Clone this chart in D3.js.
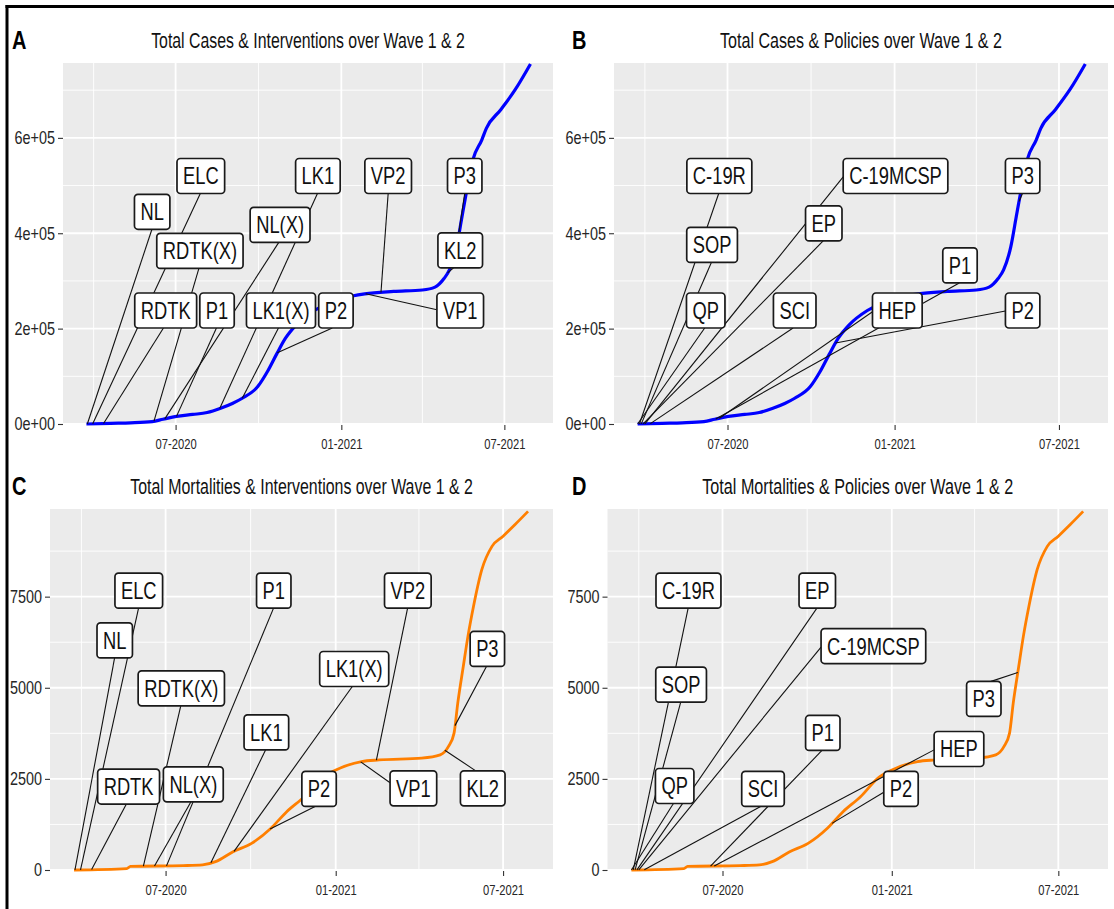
<!DOCTYPE html>
<html>
<head>
<meta charset="utf-8">
<script src="https://cdn.jsdelivr.net/npm/d3@7"></script>
<style>
  body { margin: 0; background: #fff; }
  text { font-family: "Liberation Sans", Arial, sans-serif; }
</style>
</head>
<body>
<script>
// Cumulative totals
var caseDates = ["2020-03-24", "2020-04-20", "2020-05-12", "2020-06-05", "2020-06-17", "2020-07-02",
    "2020-07-20", "2020-08-05", "2020-08-20", "2020-09-02", "2020-09-13", "2020-09-30",
    "2020-10-11", "2020-10-21", "2020-10-31", "2020-11-12", "2020-12-02", "2020-12-20",
    "2021-01-03", "2021-01-27", "2021-02-28", "2021-04-01", "2021-04-15", "2021-04-25",
    "2021-05-01", "2021-05-09", "2021-05-15", "2021-05-19", "2021-05-27", "2021-06-06",
    "2021-06-11", "2021-06-27", "2021-07-13", "2021-07-30"];
var caseTotals = [0, 1500, 2500, 5000, 10000, 16000,
    20000, 24000, 33000, 43000, 54000, 78000,
    110000, 146000, 180000, 208000, 238000, 255000,
    264000, 273000, 278000, 281000, 287000, 305000,
    323000, 372000, 435000, 477000, 554000, 596000,
    620000, 659000, 701000, 755000];

var deathDates = ["2020-03-24", "2020-05-20", "2020-05-24", "2020-07-20", "2020-08-10", "2020-08-24",
    "2020-09-12", "2020-10-02", "2020-10-23", "2020-11-09", "2020-11-28", "2020-12-17",
    "2020-12-31", "2021-01-29", "2021-02-17", "2021-04-04", "2021-04-24", "2021-05-03",
    "2021-05-09", "2021-05-13", "2021-05-19", "2021-05-24", "2021-05-30", "2021-06-08",
    "2021-06-19", "2021-07-01", "2021-07-14", "2021-07-28"];
var deathTotals = [0, 40, 100, 120, 140, 230,
    500, 730, 1145, 1600, 2010, 2520,
    2730, 2975, 3020, 3070, 3160, 3390,
    3755, 4580, 5590, 6410, 7230, 8240,
    8880, 9160, 9480, 9840];

// Events
var interventionNames = ["NL", "ELC", "RDTK", "RDTK(X)", "NL(X)", "P1", "LK1", "LK1(X)", "P2", "VP1", "VP2", "KL2", "P3"];
var interventionDates = ["2020-03-25", "2020-03-31", "2020-04-12", "2020-06-07", "2020-06-19", "2020-07-02",
    "2020-08-19", "2020-09-13", "2020-10-22", "2021-01-28", "2021-02-14", "2021-04-29", "2021-05-10"];
var policyNames = ["C-19R", "SOP", "QP", "EP", "C-19MCSP", "SCI", "P1", "HEP", "P2", "P3"];
var policyDates = ["2020-03-26", "2020-03-28", "2020-03-24", "2020-03-30", "2020-04-01", "2020-04-07",
    "2020-06-18", "2020-06-22", "2020-10-28", "2021-05-18"];

// Where the repelled labels ended up (date, value at the centre of each box)
var spotsA = [["2020-06-05", 445000], ["2020-07-29", 520000], ["2020-06-20", 238000], ["2020-07-28", 363000],
    ["2020-10-25", 417500], ["2020-08-16", 238000], ["2020-12-06", 520000], ["2020-10-26", 238000],
    ["2020-12-26", 238000], ["2021-05-13", 238000], ["2021-02-22", 520000], ["2021-05-13", 364000],
    ["2021-05-18", 520000]];
var spotsC = [["2020-05-07", 6300], ["2020-06-02", 7665], ["2020-05-22", 2290], ["2020-07-18", 4985],
    ["2020-07-31", 2350], ["2020-10-26", 7665], ["2020-10-18", 3775], ["2021-01-21", 5515],
    ["2020-12-14", 2225], ["2021-03-26", 2240], ["2021-03-20", 7665], ["2021-06-09", 2240],
    ["2021-06-14", 6065]];
var spotsB = [["2020-06-22", 520000], ["2020-06-14", 375500], ["2020-06-07", 238000], ["2020-10-15", 420500],
    ["2021-01-02", 520000], ["2020-09-13", 238000], ["2021-03-14", 332500], ["2021-01-04", 238000],
    ["2021-05-22", 238000], ["2021-05-22", 520000]];
var spotsD = [["2020-05-25", 7665], ["2020-05-17", 5085], ["2020-05-10", 2305], ["2020-10-12", 7665],
    ["2020-12-12", 6145], ["2020-08-14", 2225], ["2020-10-18", 3760], ["2021-03-15", 3320],
    ["2021-01-11", 2225], ["2021-04-11", 4695]];

// Axes
var xDomain = ["2020-02-27", "2021-08-24"];
var xTicks = ["2020-07-01", "2021-01-01", "2021-07-01"];
var xMinor = ["2020-04-01", "2020-10-01", "2021-04-01"];
var yTicksCases = [0, 200000, 400000, 600000];
var yMinorCases = [100000, 300000, 500000, 700000];
var yTicksDeaths = [0, 2500, 5000, 7500];
var yMinorDeaths = [1250, 3750, 6250, 8750];

var parse = d3.timeParse("%Y-%m-%d");
var W = 1114, H = 909;

var cases = caseDates.map(function(d, i) { return { date: parse(d), value: caseTotals[i] }; });
var deaths = deathDates.map(function(d, i) { return { date: parse(d), value: deathTotals[i] }; });

function sci(v) {
    return d3.format(".0e")(v).replace(/e([+-])(\d)$/, "e$10$2");
}

var panels = [
    { letter: "A", title: "Total Cases & Interventions over Wave 1 & 2", titleW: 314,
      left: 63, right: 553, top: 63, bottom: 424, yMax: 757000,
      series: cases, color: "#0000ff", width: 3.2,
      names: interventionNames, dates: interventionDates, spots: spotsA,
      yTicks: yTicksCases, yMinor: yMinorCases, fmt: sci },
    { letter: "B", title: "Total Cases & Policies over Wave 1 & 2", titleW: 282,
      left: 614, right: 1108, top: 63, bottom: 424, yMax: 757000,
      series: cases, color: "#0000ff", width: 3.2,
      names: policyNames, dates: policyDates, spots: spotsB,
      yTicks: yTicksCases, yMinor: yMinorCases, fmt: sci },
    { letter: "C", title: "Total Mortalities & Interventions over Wave 1 & 2", titleW: 343,
      left: 50, right: 553, top: 509, bottom: 870, yMax: 9905,
      series: deaths, color: "#ff7f00", width: 2.8,
      names: interventionNames, dates: interventionDates, spots: spotsC,
      yTicks: yTicksDeaths, yMinor: yMinorDeaths, fmt: d3.format("d") },
    { letter: "D", title: "Total Mortalities & Policies over Wave 1 & 2", titleW: 311,
      left: 607.5, right: 1108, top: 509, bottom: 870, yMax: 9905,
      series: deaths, color: "#ff7f00", width: 2.8,
      names: policyNames, dates: policyDates, spots: spotsD,
      yTicks: yTicksDeaths, yMinor: yMinorDeaths, fmt: d3.format("d") }
];

var svg = d3.select("body").append("svg").attr("width", W).attr("height", H);

// outer frame (top and left only)
svg.append("line").attr("x1", 5.5).attr("y1", 6.5).attr("x2", W).attr("y2", 6.5)
    .attr("stroke", "#000").attr("stroke-width", 3);
svg.append("line").attr("x1", 7).attr("y1", 5).attr("x2", 7).attr("y2", H)
    .attr("stroke", "#000").attr("stroke-width", 3);

panels.forEach(drawPanel);

function valueAt(series, date) {
    var i = d3.bisector(function(d) { return d.date; }).left(series, date);
    if (i <= 0) return series[0].value;
    if (i >= series.length) return series[series.length - 1].value;
    var a = series[i - 1], b = series[i];
    var t = (date - a.date) / (b.date - a.date);
    return a.value + t * (b.value - a.value);
}

// ggrepel's select_line_connection, worked out in panel-normalised units
function connect(px, py, box, pw, ph) {
    var x1 = box.x0 / pw, x2 = box.x1 / pw, y1 = box.y0 / ph, y2 = box.y1 / ph;
    var p0 = px / pw, p1 = py / ph;
    var ox, oy, lr = false, tb = false;
    if (p0 >= x1 && p0 <= x2) ox = p0;
    else if (p0 > x2) { ox = x2; lr = true; }
    else { ox = x1; lr = true; }
    if (p1 >= y1 && p1 <= y2) oy = p1;
    else if (p1 > y2) { oy = y2; tb = true; }
    else { oy = y1; tb = true; }
    var mx = (x1 + x2) / 2, my = (y1 + y2) / 2;
    var d = Math.hypot(p0 - ox, p1 - oy), a;
    if (tb && !lr) {
        a = Math.hypot(p0 - mx, p1 - oy);
        ox = ox + (mx - ox) * d / a;
    } else if (lr && !tb) {
        a = Math.hypot(p0 - ox, p1 - my);
        oy = oy + (my - oy) * d / a;
    } else if (lr && tb) {
        var a1 = Math.hypot(p0 - mx, p1 - oy), a2 = Math.hypot(p0 - ox, p1 - my);
        if (a1 < a2) ox = ox + (mx - ox) * d / a1;
        else oy = oy + (my - oy) * d / a2;
    }
    return [ox * pw, oy * ph, !(lr || tb)];
}

function drawPanel(p) {
    var x = d3.scaleTime().domain(xDomain.map(parse)).range([p.left, p.right]);
    var y = d3.scaleLinear().domain([0, p.yMax]).range([p.bottom, p.top]);
    var g = svg.append("g");

    g.append("rect")
        .attr("x", p.left).attr("y", p.top)
        .attr("width", p.right - p.left).attr("height", p.bottom - p.top + 1)
        .attr("fill", "#ebebeb");

    // grid
    g.selectAll(".xminor").data(xMinor).enter().append("line")
        .attr("x1", function(d) { return x(parse(d)); }).attr("x2", function(d) { return x(parse(d)); })
        .attr("y1", p.top).attr("y2", p.bottom + 1)
        .attr("stroke", "#fff").attr("stroke-width", 0.9);
    g.selectAll(".yminor").data(p.yMinor).enter().append("line")
        .attr("x1", p.left).attr("x2", p.right)
        .attr("y1", function(d) { return y(d); }).attr("y2", function(d) { return y(d); })
        .attr("stroke", "#fff").attr("stroke-width", 0.9);
    g.selectAll(".xmajor").data(xTicks).enter().append("line")
        .attr("x1", function(d) { return x(parse(d)); }).attr("x2", function(d) { return x(parse(d)); })
        .attr("y1", p.top).attr("y2", p.bottom + 1)
        .attr("stroke", "#fff").attr("stroke-width", 1.8);
    g.selectAll(".ymajor").data(p.yTicks).enter().append("line")
        .attr("x1", p.left).attr("x2", p.right)
        .attr("y1", function(d) { return y(d); }).attr("y2", function(d) { return y(d); })
        .attr("stroke", "#fff").attr("stroke-width", 1.8);

    // cumulative curve
    var line = d3.line()
        .x(function(d) { return x(d.date); })
        .y(function(d) { return y(d.value); })
        .curve(d3.curveMonotoneX);
    g.append("path").datum(p.series)
        .attr("d", line)
        .attr("fill", "none")
        .attr("stroke", p.color)
        .attr("stroke-width", p.width)
        .attr("stroke-linejoin", "round");

    // labels: all segments first, boxes on top
    var segLayer = g.append("g"), boxLayer = g.append("g");
    var pw = p.right - p.left, ph = p.bottom - p.top;
    p.names.forEach(function(name, i) {
        var cx = x(parse(p.spots[i][0])), cy = y(p.spots[i][1]);
        var lab = boxLayer.append("g").attr("transform", "translate(" + cx + "," + cy + ")");
        var rect = lab.append("rect");
        var txt = lab.append("text")
            .attr("transform", "scale(0.78,1)")
            .attr("text-anchor", "middle")
            .attr("dy", "0.36em")
            .style("font-size", "23.5px")
            .attr("fill", "#111")
            .text(name);
        var w = txt.node().getComputedTextLength() * 0.78 + 12, h = 35;
        rect.attr("x", -w / 2).attr("y", -h / 2)
            .attr("width", w).attr("height", h)
            .attr("rx", 3.5)
            .attr("fill", "#fff")
            .attr("stroke", "#1a1a1a")
            .attr("stroke-width", 1.7);

        var ed = parse(p.dates[i]);
        var px = x(ed), py = y(valueAt(p.series, ed));
        var end = connect(px, py, { x0: cx - w / 2, x1: cx + w / 2, y0: cy - h / 2, y1: cy + h / 2 }, pw, ph);
        if (!end[2] && Math.hypot(end[0] - px, end[1] - py) > 5) {
            segLayer.append("line")
                .attr("x1", px).attr("y1", py)
                .attr("x2", end[0]).attr("y2", end[1])
                .attr("stroke", "#111")
                .attr("stroke-width", 1.1);
        }
    });

    // axes
    var ax = g.append("g")
        .attr("transform", "translate(0," + (p.bottom + 1) + ")")
        .call(d3.axisBottom(x).tickValues(xTicks.map(parse)).tickFormat(d3.timeFormat("%m-%Y")).tickSize(5).tickPadding(9));
    var ay = g.append("g")
        .attr("transform", "translate(" + p.left + ",0)")
        .call(d3.axisLeft(y).tickValues(p.yTicks).tickFormat(p.fmt).tickSize(5).tickPadding(3));
    [ax, ay].forEach(function(a) {
        a.select(".domain").remove();
        a.selectAll(".tick line").attr("stroke", "#333").attr("stroke-width", 1.1);
        a.selectAll(".tick text").attr("fill", "#262626").style("font-family", "Liberation Sans, Arial, sans-serif");
    });
    ax.selectAll(".tick text").style("font-size", "14px").attr("transform", "scale(0.8,1)");
    ay.selectAll(".tick text").style("font-size", "18px").attr("transform", "scale(0.8,1)").attr("x", -8 / 0.8);

    // title (squeezed to the narrow width of the original) and panel letter
    var tY = p.top - 15.5;
    var tg = g.append("g");
    var tt = tg.append("text")
        .attr("text-anchor", "middle")
        .style("font-size", "22px")
        .attr("fill", "#111")
        .text(p.title);
    var sx = p.titleW / tt.node().getComputedTextLength();
    tg.attr("transform", "translate(" + ((p.left + p.right) / 2) + "," + tY + ") scale(" + sx + ",1)");
    g.append("text")
        .attr("transform", "translate(" + (p.left < 300 ? 12 : 572) + "," + (tY + 1.5) + ") scale(0.8,1)")
        .style("font-size", "25px")
        .style("font-weight", "bold")
        .attr("fill", "#000")
        .text(p.letter);
}
</script>
</body>
</html>
